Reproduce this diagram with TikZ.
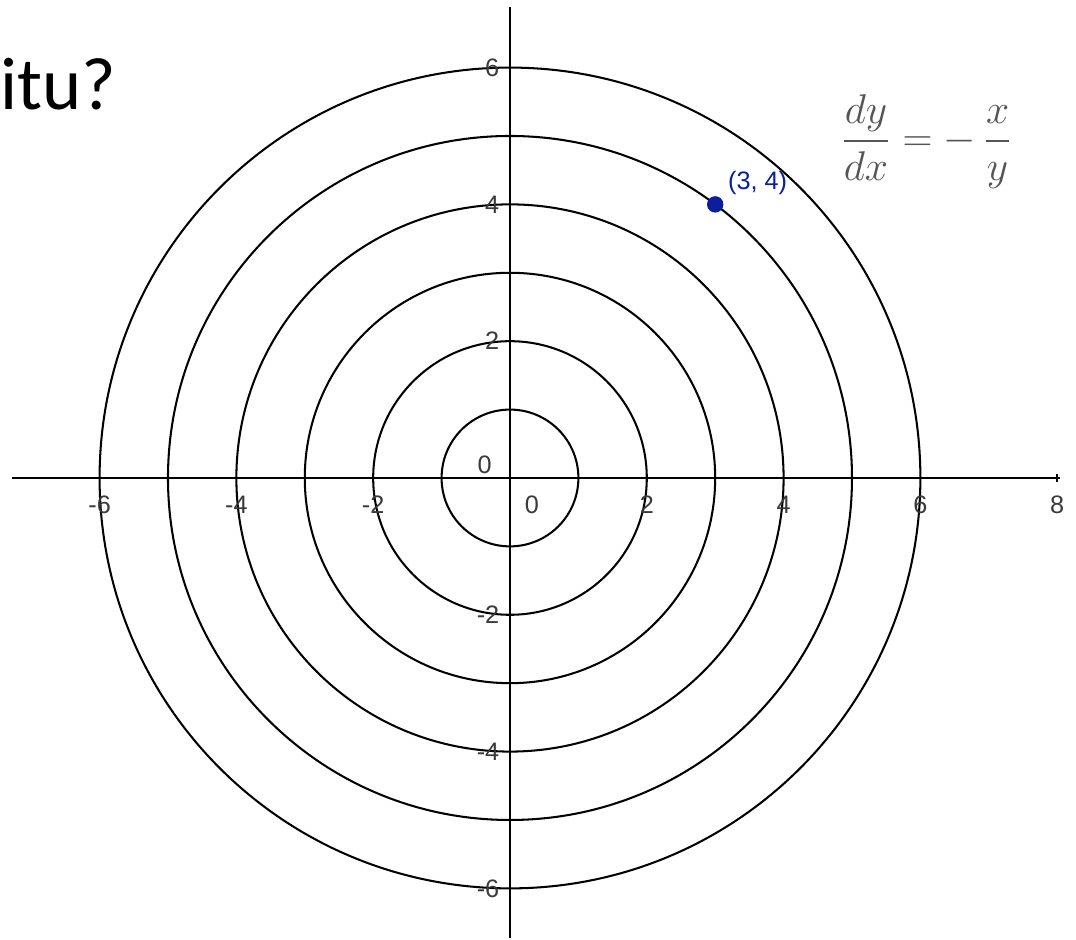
\documentclass[tikz,border=0pt]{standalone}
\usepackage{amsmath}
\usepackage{fontspec}
\setmainfont{Liberation Sans}
\newfontfamily\titlefont{Carlito}
\usepackage{xcolor}
\usepackage{tikz}
\usetikzlibrary{positioning}
\definecolor{ptblue}{HTML}{0A1E9E}
\definecolor{ticklbl}{HTML}{3A3A3A}
\definecolor{eqgray}{HTML}{555555}
\tikzset{
  axis/.style={line width=0.8pt, black},
  ring/.style={line width=0.85pt, black},
  tick/.style={line width=0.6pt, black},
  lbl/.style={font=\fontsize{10.5}{12}\selectfont, text=ticklbl, inner sep=0pt},
  ptlbl/.style={font=\fontsize{10.5}{12}\selectfont, text=ptblue, inner sep=0pt},
}

\begin{document}
\begin{tikzpicture}
\useasboundingbox (-7.456,-6.754) rectangle (8.275,6.988);
\fill[white] (-7.456,-6.754) rectangle (8.275,6.988);
% rings x^2+y^2=r^2
\foreach \r in {1,...,6} \draw[ring] (0,0) circle (\r);
% axes
\coordinate (xl) at (-7.28,0); \coordinate (xr) at (8.04,0);
\coordinate (yb) at (0,-6.73); \coordinate (yt) at (0,6.89);
\draw[axis] (xl)--(xr); \draw[axis] (yb)--(yt);
\foreach \v in {-6,-4,-2,2,4,6,8} {
  \draw[tick] (\v,-0.06)--(\v,0.06);
  \node[lbl] at (\v,-0.39) {\v};
}
\foreach \v in {-6,-4,-2,2,4,6} {
  \draw[tick] (-0.06,\v)--(0.06,\v);
  \node[lbl, anchor=east] at (-0.15,\v) {\v};
}
\node[lbl] (o1) at (-0.37,0.19) {0};
\node[lbl] (o2) at (0.32,-0.39) {0};
% point on the circle r=5
\fill[ptblue] (3,4) circle (0.12);
\node[ptlbl] (pt) at (3.62,4.31) {(3, 4)};
% equation
\node[text=eqgray, font=\fontsize{16.5}{19}\selectfont] (eq) at (6.09,4.92) {$\dfrac{dy}{dx}=-\,\dfrac{x}{y}$};
% title fragment
\node[anchor=base west, inner sep=0pt, font=\titlefont\fontsize{31}{36}\selectfont] (ttl) at (-7.456,5.38) {itu?};
\end{tikzpicture}
\end{document}
